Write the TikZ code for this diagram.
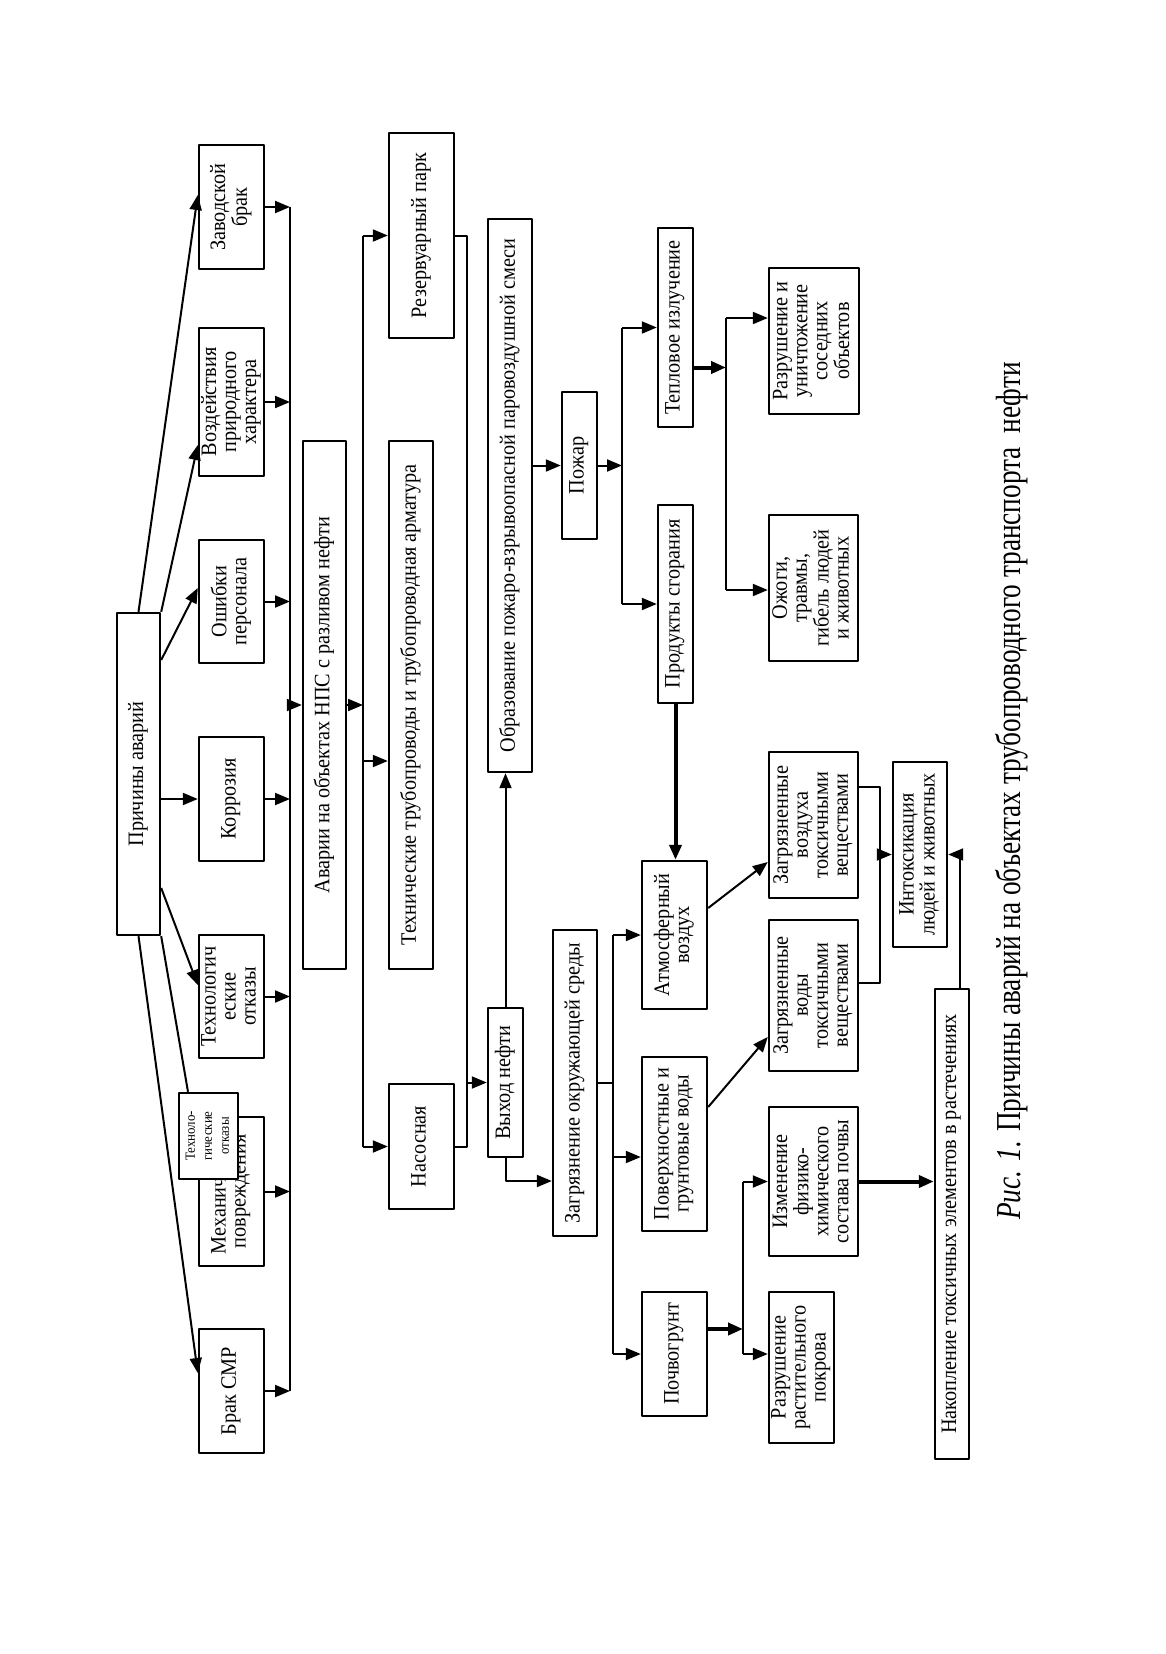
\documentclass[tikz,border=0pt]{standalone}
\usepackage{fontspec}
\setmainfont[FakeStretch=0.92]{Liberation Serif}
\newfontfamily\capfont[FakeStretch=0.78]{Liberation Serif}
\usetikzlibrary{arrows.meta}
\newcommand{\vt}[1]{\rotatebox{90}{\begin{tabular}{@{}c@{}}#1\end{tabular}}}
\tikzset{
  box/.style={draw, line width=1.2pt, inner sep=0pt, font=\fontsize{11}{10}\selectfont},
  cover/.style={box, fill=white, font=\fontsize{7}{8.5}\selectfont},
  arr/.style={-{Triangle[length=7.5pt,width=6pt]}, line width=1pt},
  thk/.style={arr, line width=2pt},
  bus/.style={line width=1pt},
}
\begin{document}
\begin{tikzpicture}[x=0.5pt, y=-0.5pt, line join=round]
  \useasboundingbox (0,0) rectangle (1166,1654);
  % causes
  \node[box, minimum width=21.5pt, minimum height=161pt] (prich) at (138.5,774) {\vt{Причины аварий}};
  \node[box, minimum width=32.5pt, minimum height=62pt] (zavod) at (231.5,207) {\vt{Заводской\\брак}};
  \node[box, minimum width=32.5pt, minimum height=74pt] (vozd) at (231.5,402) {\vt{Воздействия\\природного\\характера}};
  \node[box, minimum width=32.5pt, minimum height=61.5pt] (oshib) at (231.5,601.5) {\vt{Ошибки\\персонала}};
  \node[box, minimum width=32.5pt, minimum height=62pt] (korr) at (231.5,799) {\vt{Коррозия}};
  \node[box, minimum width=32.5pt, minimum height=61.5pt] (tehotk) at (231.5,996.5) {\vt{Технологич\\еские\\отказы}};
  \node[box, minimum width=32.5pt, minimum height=74.5pt] (meh) at (231.5,1191.5) {\vt{Механические\\повреждения}};
  \node[box, minimum width=32.5pt, minimum height=62pt] (brak) at (231.5,1391) {\vt{Брак СМР}};
  \node[cover, minimum width=29.5pt, minimum height=43pt] (tehsm) at (208.5,1136) {\vt{Техноло-\\гические\\отказы}};
  % objects
  \node[box, minimum width=21.5pt, minimum height=264pt] (avar) at (324.5,705) {\vt{Аварии на объектах НПС с разливом нефти}};
  \node[box, minimum width=22pt, minimum height=264pt] (tehtr) at (411,705) {\vt{Технические трубопроводы и трубопроводная арматура}};
  \node[box, minimum width=32.5pt, minimum height=102.5pt] (rezerv) at (421.5,235.5) {\vt{Резервуарный парк}};
  \node[box, minimum width=32.5pt, minimum height=62.5pt] (nasos) at (421.5,1146.5) {\vt{Насосная}};
  \node[box, minimum width=22pt, minimum height=276.5pt] (obraz) at (510,495.5) {\vt{Образование пожаро-взрывоопасной паровоздушной смеси}};
  \node[box, minimum width=17.5pt, minimum height=74.5pt] (vyhod) at (505.5,1082.5) {\vt{Выход нефти}};
  % consequences
  \node[box, minimum width=17.5pt, minimum height=73.5pt] (pozhar) at (579.5,465.5) {\vt{Пожар}};
  \node[box, minimum width=22pt, minimum height=153pt] (zagr) at (575,1083) {\vt{Загрязнение окружающей среды}};
  \node[box, minimum width=17.5pt, minimum height=99.5pt] (teplo) at (675.5,327.5) {\vt{Тепловое излучение}};
  \node[box, minimum width=17.5pt, minimum height=99pt] (prod) at (675.5,604) {\vt{Продукты сгорания}};
  \node[box, minimum width=45pt, minimum height=73pt] (razr) at (814,341) {\vt{Разрушение и\\уничтожение\\соседних\\объектов}};
  \node[box, minimum width=44.5pt, minimum height=73pt] (ozhog) at (813.5,588) {\vt{Ожоги,\\травмы,\\гибель людей\\и животных}};
  \node[box, minimum width=32.5pt, minimum height=74pt] (atm) at (674.5,935) {\vt{Атмосферный\\воздух}};
  \node[box, minimum width=32.5pt, minimum height=87pt] (pov) at (674.5,1144) {\vt{Поверхностные и\\грунтовые воды}};
  \node[box, minimum width=32.5pt, minimum height=62pt] (pochv) at (674.5,1354) {\vt{Почвогрунт}};
  \node[box, minimum width=44.5pt, minimum height=73pt] (zvozd) at (813.5,825) {\vt{Загрязненные\\воздуха\\токсичными\\веществами}};
  \node[box, minimum width=44.5pt, minimum height=75.5pt] (zvod) at (813.5,995.5) {\vt{Загрязненные\\воды\\токсичными\\веществами}};
  \node[box, minimum width=44.5pt, minimum height=74.5pt] (izm) at (813.5,1181.5) {\vt{Изменение\\физико-\\химического\\состава почвы}};
  \node[box, minimum width=32.5pt, minimum height=75.5pt] (rast) at (801.5,1367.5) {\vt{Разрушение\\растительного\\покрова}};
  \node[box, minimum width=27pt, minimum height=92.5pt] (intox) at (920,854.5) {\vt{Интоксикация\\людей и животных}};
  \node[box, minimum width=17pt, minimum height=235pt] (nakop) at (952,1224) {\vt{Накопление токсичных элементов в растечениях}};
  \node[rotate=90, font=\capfont\fontsize{17.5}{20}\selectfont] (caption) at (1012,791) {\textit{Рис. 1.} Причины аварий на объектах трубопроводного транспорта\ \ нефти};
  % bus lines
  \coordinate (b1a) at (290,207);   \coordinate (b1b) at (290,1391);
  \coordinate (b2a) at (363,235.5); \coordinate (b2b) at (363,1146.5);
  \coordinate (b3b) at (467,1146.5);
  \coordinate (b4a) at (622,327.5); \coordinate (b4b) at (622,604);
  \coordinate (b5a) at (726,318);   \coordinate (b5b) at (726,590);
  \coordinate (b6a) at (613,935);   \coordinate (b6b) at (613,1354);
  \coordinate (b7a) at (880,787);   \coordinate (b7b) at (880,983);
  \coordinate (b8a) at (743,1181.5); \coordinate (b8b) at (743,1354);
  % ports
  \coordinate (tt) at ([yshift=-28pt]tehtr.west);
  \coordinate (tpo) at ([yshift=-20pt]teplo.east);
  \coordinate (zin) at ([yshift=-49pt]zagr.west);
  \coordinate (pin) at ([yshift=-6.5pt]pov.west);
  \coordinate (ao) at ([yshift=13.5pt]atm.east);
  \coordinate (zvi) at ([yshift=-18.5pt]zvozd.west);
  \coordinate (po) at ([yshift=18.5pt]pov.east);
  \coordinate (zwi) at ([yshift=-20.75pt]zvod.west);
  \coordinate (zvo) at ([yshift=19pt]zvozd.east);
  \coordinate (zwo) at ([yshift=6.25pt]zvod.east);
  \coordinate (pco) at ([yshift=12.5pt]pochv.east);
  \coordinate (nk) at ([xshift=4pt]nakop.north);
  % causes -> accidents
  \draw[arr] (prich.north) -- ([yshift=6pt]zavod.west);
  \draw[arr] (prich.north east) -- ([yshift=-21.5pt]vozd.west);
  \draw[arr] ([yshift=57pt]prich.east) -- ([yshift=6.75pt]oshib.west);
  \draw[arr] (prich.east |- korr.west) -- (korr.west);
  \draw[arr] ([yshift=-57pt]prich.east) -- ([yshift=5.75pt]tehotk.west);
  \draw[bus] (prich.south east) -- ([xshift=-10.25pt]tehsm.north);
  \draw[arr] (prich.south) -- ([yshift=9pt]brak.west);
  \foreach \n in {zavod,vozd,oshib,korr,tehotk,meh,brak}
    \draw[arr] (\n.east) -- (\n.east -| b1a);
  \draw[bus] (b1a) -- (b1b);
  \draw[arr] (b1a |- avar.west) -- (avar.west);
  \draw[arr] (avar.east) -- (avar.east -| b2a);
  \draw[bus] (b2a) -- (b2b);
  \draw[arr] (b2a) -- (rezerv.west);
  \draw[arr] (tt -| b2a) -- (tt);
  \draw[arr] (b2b) -- (nasos.west);
  \draw[bus] (rezerv.east) -| (b3b) -- (nasos.east);
  \draw[arr] (vyhod.west -| b3b) -- (vyhod.west);
  \draw[arr] (vyhod.north) -- (vyhod.north |- obraz.south);
  % fire
  \draw[arr] (obraz.east |- pozhar.west) -- (pozhar.west);
  \draw[arr] (pozhar.east) -- (pozhar.east -| b4a);
  \draw[bus] (b4a) -- (b4b);
  \draw[arr] (b4a) -- (teplo.west);
  \draw[arr] (b4b) -- (prod.west);
  \draw[thk] (tpo) -- (tpo -| b5a);
  \draw[bus] (b5a) -- (b5b);
  \draw[arr] (b5a) -- (b5a -| razr.west);
  \draw[arr] (b5b) -- (b5b -| ozhog.west);
  \draw[thk] (prod.south) -- (prod.south |- atm.north);
  % pollution
  \draw[arr] (vyhod.south) |- (zin);
  \draw[bus] (zagr.east) -- (zagr.east -| b6a);
  \draw[bus] (b6a) -- (b6b);
  \draw[arr] (b6a) -- (atm.west);
  \draw[arr] (pin -| b6a) -- (pin);
  \draw[arr] (b6b) -- (pochv.west);
  \draw[arr] (ao) -- (zvi);
  \draw[arr] (po) -- (zwi);
  \draw[bus] (zvo) -- (b7a) -- (b7b) -- (zwo);
  \draw[arr] (intox.west -| b7a) -- (intox.west);
  \draw[thk] (pco) -- (pco -| b8a);
  \draw[bus] (b8a) -- (b8b);
  \draw[arr] (b8a) -- (izm.west);
  \draw[arr] (b8b) -- (b8b -| rast.west);
  \draw[thk] (izm.east) -- (izm.east -| nakop.west);
  \draw[arr] (nk) |- (intox.east);
\end{tikzpicture}
\end{document}
